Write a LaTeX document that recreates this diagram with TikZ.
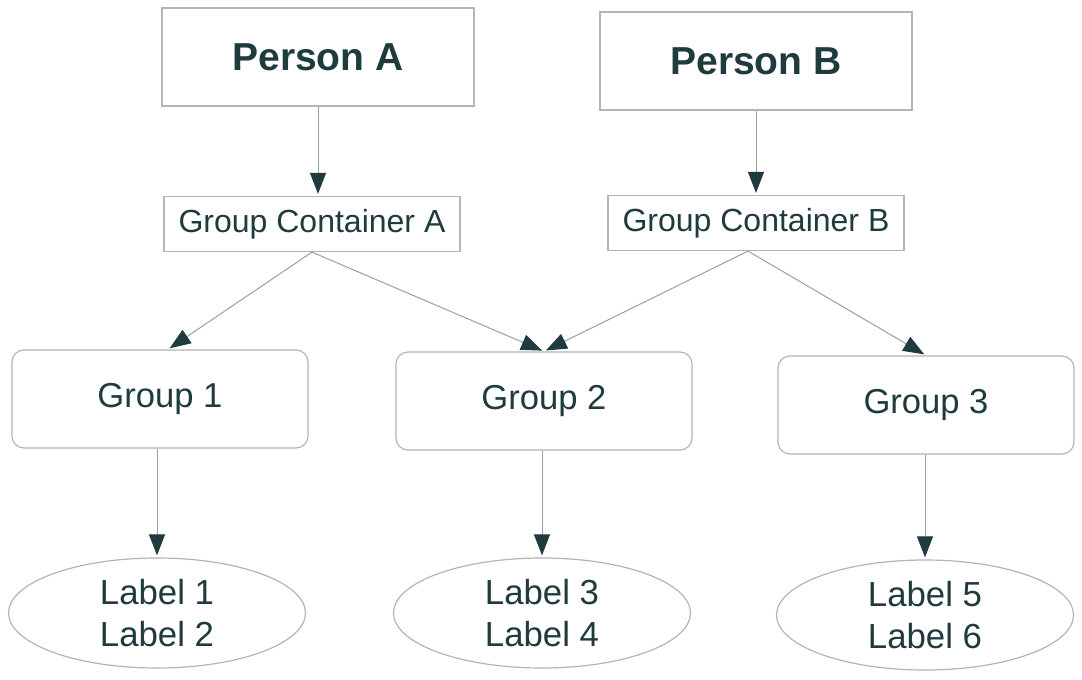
\documentclass[tikz,border=0pt]{standalone}
\usepackage{fontspec}
\setmainfont{Liberation Sans}
\usetikzlibrary{shapes.geometric,arrows.meta}
\definecolor{ink}{HTML}{1F3B3E}
\definecolor{edge}{HTML}{B4B4B4}
\definecolor{wire}{HTML}{9A9FA2}
\tikzset{
  person/.style={draw=edge, line width=0.6pt, minimum width=156pt, minimum height=49pt,
    text=ink, font=\fontsize{19.5}{22}\selectfont\bfseries},
  container/.style={draw=edge, line width=0.6pt, minimum width=148pt, minimum height=27.5pt,
    text=ink, font=\fontsize{16}{19}\selectfont},
  groupbox/.style={draw=edge, line width=0.6pt, rounded corners=6pt, minimum width=148pt,
    minimum height=49pt, text=ink, font=\fontsize{17.3}{20}\selectfont},
  labelbox/.style={draw=edge, line width=0.6pt, ellipse, minimum width=148.5pt,
    minimum height=55pt, inner sep=0pt, align=center, text=ink,
    font=\fontsize{17.4}{21}\selectfont},
  link/.style={draw=wire, line width=0.5pt,
    -{Triangle[length=10.5pt,width=8pt,color=ink,fill=ink]}, shorten >=1pt}
}
\begin{document}
\begin{tikzpicture}[x=0.5pt, y=-0.5pt]
  \useasboundingbox (0,0) rectangle (1082,680);

  % top row: people
  \node[person] (pa) at (318,57) {Person A};
  \node[person] (pb) at (756,61) {Person B};

  % containers
  \node[container] (gca) at (312,224) {Group Container A};
  \node[container] (gcb) at (756,223) {Group Container B};

  % groups
  \node[groupbox] (g1) at (160,399) {Group 1};
  \node[groupbox] (g2) at (544,401) {Group 2};
  \node[groupbox] (g3) at (926,405) {Group 3};

  % labels
  \node[labelbox] (l1) at (157,613) {Label 1\\Label 2};
  \node[labelbox] (l2) at (542,613) {Label 3\\Label 4};
  \node[labelbox] (l3) at (925,615) {Label 5\\Label 6};

  % connectors
  \draw[link] (pa.south) -- (gca.north -| pa.south);
  \draw[link] (pb.south) -- (gcb.north);
  \draw[link] (gca.south) -- ([xshift=4pt]g1.north);
  \draw[link] (gca.south) -- (g2.north);
  \draw[link] ([xshift=-4pt]gcb.south) -- (g2.north);
  \draw[link] ([xshift=-4pt]gcb.south) -- (g3.north);
  \draw[link] (l1.north |- g1.south) -- (l1.north);
  \draw[link] (l2.north |- g2.south) -- (l2.north);
  \draw[link] (l3.north |- g3.south) -- (l3.north);
\end{tikzpicture}
\end{document}
